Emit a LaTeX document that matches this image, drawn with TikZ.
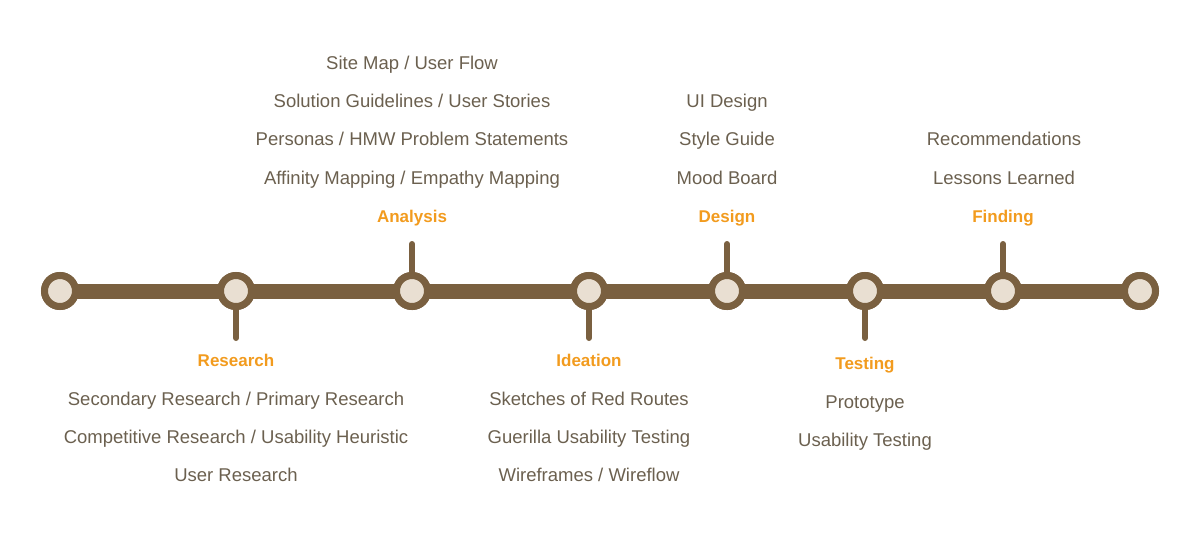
\documentclass[tikz,border=0pt]{standalone}
\usepackage{fontspec}
\setmainfont{Liberation Sans}
\definecolor{brn}{HTML}{7A6040}
\definecolor{fillc}{HTML}{E9DFD2}
\definecolor{org}{HTML}{F29B1E}
\definecolor{txt}{HTML}{6B604F}
\begin{document}
\begin{tikzpicture}[x=1pt,y=-1pt,
  stop/.style={circle,draw=brn,line width=7pt,fill=fillc,minimum size=31pt,inner sep=0pt},
  stem/.style={draw=brn,line width=6pt,line cap=round},
  phase/.style={text=org,font=\fontsize{17}{20}\selectfont\bfseries,text height=12pt,text depth=3.5pt,yshift=-1pt},
  item/.style={text=txt,font=\fontsize{18.5}{22}\selectfont,text height=13pt,text depth=4pt,yshift=-2pt}]
\useasboundingbox (0,0) rectangle (1200,539);
\draw[brn,line width=15pt] (60,291) -- (1140,291);
\foreach \n/\x in {s0/60,s1/236,s2/412,s3/589,s4/727,s5/865,s6/1003,s7/1140}
  \node[stop] (\n) at (\x,291) {};
\coordinate (c1) at (236,338);
\coordinate (c2) at (412,244);
\coordinate (c3) at (589,338);
\coordinate (c4) at (727,244);
\coordinate (c5) at (865,338);
\coordinate (c6) at (1003,244);
\foreach \i in {1,...,6} \draw[stem] (s\i) -- (c\i);
\foreach \i in {0,...,7} \node[stop] at (s\i) {};
\node[phase] (research) at (236,361) {Research};
\node[phase] (analysis) at (412,217) {Analysis};
\node[phase] (ideation) at (589,361) {Ideation};
\node[phase] (design) at (727,217) {Design};
\node[phase] (testing) at (865,364) {Testing};
\node[phase] (finding) at (1003,217) {Finding};
\node[item] (a1) at (412,63) {Site Map / User Flow};
\node[item] (a2) at (412,101) {Solution Guidelines / User Stories};
\node[item] (a3) at (412,139) {Personas / HMW Problem Statements};
\node[item] (a4) at (412,178) {Affinity Mapping / Empathy Mapping};
\node[item] (r1) at (236,399) {Secondary Research / Primary Research};
\node[item] (r2) at (236,437) {Competitive Research / Usability Heuristic};
\node[item] (r3) at (236,475) {User Research};
\node[item] (i1) at (589,399) {Sketches of Red Routes};
\node[item] (i2) at (589,437) {Guerilla Usability Testing};
\node[item] (i3) at (589,475) {Wireframes / Wireflow};
\node[item] (d1) at (727,101) {UI Design};
\node[item] (d2) at (727,139) {Style Guide};
\node[item] (d3) at (727,178) {Mood Board};
\node[item] (t1) at (865,402) {Prototype};
\node[item] (t2) at (865,440) {Usability Testing};
\node[item] (f1) at (1004,139) {Recommendations};
\node[item] (f2) at (1004,178) {Lessons Learned};
\end{tikzpicture}
\end{document}
